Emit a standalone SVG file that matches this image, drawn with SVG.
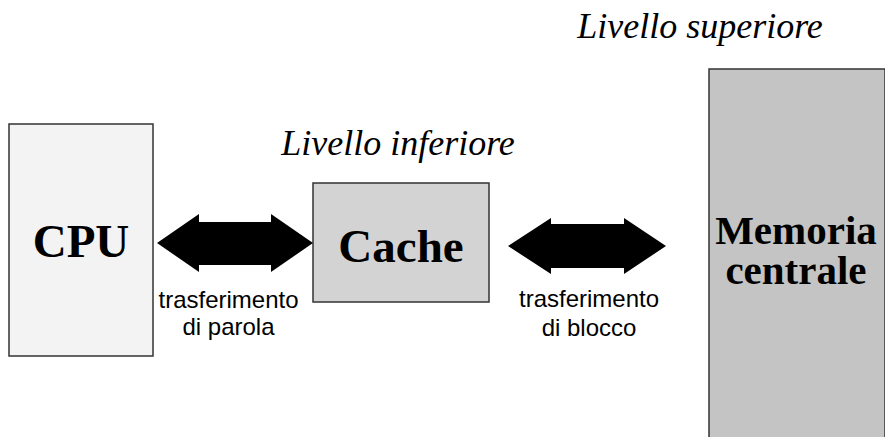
<svg xmlns="http://www.w3.org/2000/svg" width="885" height="437" viewBox="0 0 885 437">
<style>
.box{stroke:#333;stroke-width:1.5}
.big{font-family:"Liberation Serif",serif;font-weight:bold;fill:#000;text-anchor:middle}
.lvl{font-family:"Liberation Serif",serif;font-style:italic;font-size:36px;fill:#000;text-anchor:middle}
.lab{font-family:"Liberation Sans",Arial,sans-serif;font-size:24px;fill:#000;text-anchor:middle}
.arr{fill:#000}
</style>
<rect width="885" height="437" fill="#fff"/>
<text class="lvl" x="700" y="38">Livello superiore</text>
<text class="lvl" x="398" y="155">Livello inferiore</text>
<g id="cpu">
<rect class="box" x="9" y="124" width="144" height="232" fill="#f3f3f3"/>
<text class="big" x="81" y="257" font-size="47">CPU</text>
</g>
<g id="cache">
<rect class="box" x="313" y="183" width="176" height="119" fill="#d3d3d3"/>
<text class="big" x="401" y="262" font-size="47">Cache</text>
</g>
<g id="memoria">
<rect class="box" x="709" y="69" width="176" height="380" fill="#c4c4c4"/>
<text class="big" x="796" y="244" font-size="41">Memoria</text>
<text class="big" x="796" y="284" font-size="41">centrale</text>
</g>
<g id="connectors">
<polygon class="arr" points="157,243 199,214 199,222 271,222 271,214 313,243 271,272 271,265 199,265 199,272"/>
<polygon class="arr" points="508,246 551,218 551,224 624,224 624,218 666,246 624,274 624,268 551,268 551,274"/>
<text class="lab" x="228.5" y="308">trasferimento</text>
<text class="lab" x="228.5" y="335">di parola</text>
<text class="lab" x="589" y="307">trasferimento</text>
<text class="lab" x="589" y="336">di blocco</text>
</g>
</svg>
